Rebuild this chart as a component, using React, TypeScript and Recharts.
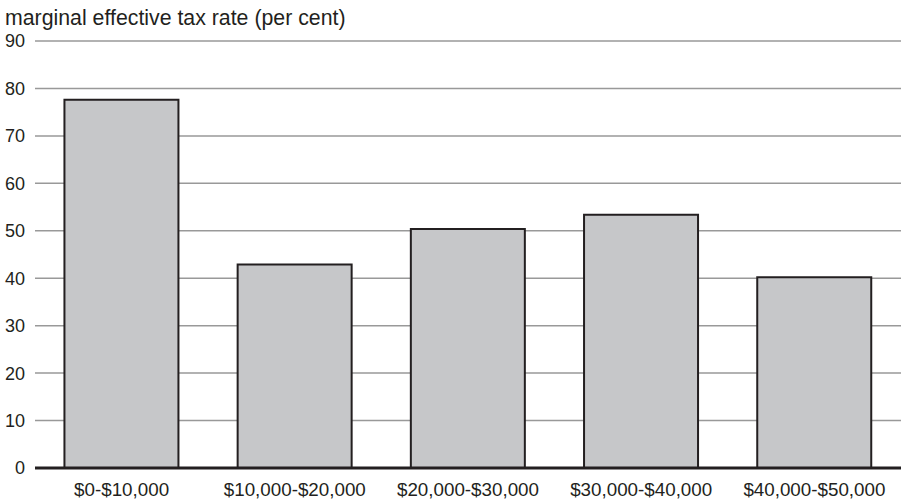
import { Bar, BarChart, CartesianGrid, XAxis, YAxis } from "recharts";

const incomeBands = ["$0-$10,000", "$10,000-$20,000", "$20,000-$30,000", "$30,000-$40,000", "$40,000-$50,000"];
const taxRates = [77.6, 42.9, 50.4, 53.4, 40.2];
const yTicks = [0, 10, 20, 30, 40, 50, 60, 70, 80, 90];

const data = incomeBands.map((band, i) => ({ band, rate: taxRates[i] }));

const font = "'Liberation Sans', Arial, Helvetica, sans-serif";

export default function App() {
    return (
        <div style={{ position: "absolute", left: 0, top: 0, width: 905, height: 503, background: "#fff", fontFamily: font }}>
            <div style={{ position: "absolute", left: 5, top: 6, fontSize: 21.3, color: "#231f20", lineHeight: "24px" }}>
                marginal effective tax rate (per cent)
            </div>
            <BarChart
                width={905}
                height={503}
                data={data}
                margin={{ top: 41, right: 4, bottom: 0, left: 0 }}
                barCategoryGap="17%"
            >
                <CartesianGrid vertical={false} stroke="#999" strokeWidth={1.5} />
                <XAxis
                    dataKey="band"
                    height={35}
                    tickLine={false}
                    tickSize={0}
                    tickMargin={15}
                    axisLine={{ stroke: "#231f20", strokeWidth: 3 }}
                    tick={{ fill: "#231f20", fontSize: 18.8, fontFamily: font }}
                    interval={0}
                />
                <YAxis
                    width={35}
                    domain={[0, 90]}
                    ticks={yTicks}
                    axisLine={false}
                    tickLine={false}
                    tickSize={0}
                    tickMargin={10}
                    tick={{ fill: "#231f20", fontSize: 18, fontFamily: font }}
                />
                <Bar dataKey="rate" fill="#c6c7c9" stroke="#231f20" strokeWidth={2} isAnimationActive={false} />
            </BarChart>
        </div>
    );
}
